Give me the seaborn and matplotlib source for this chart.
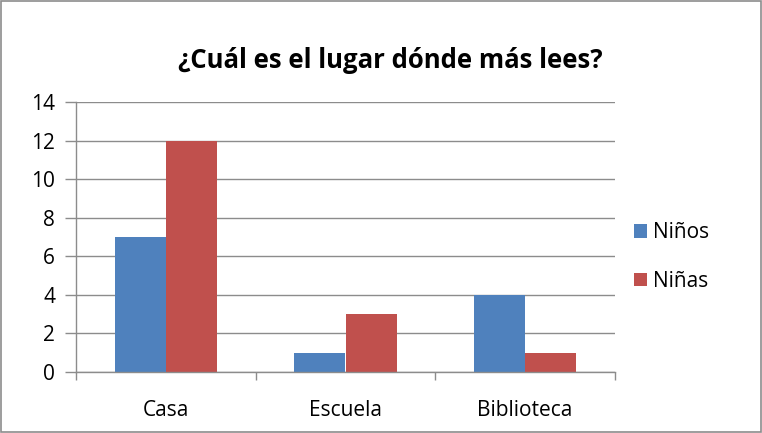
import pandas as pd
import matplotlib.pyplot as plt
import seaborn as sns

# data
lugares = ["Casa", "Escuela", "Biblioteca"]
ninos = [7, 1, 4]
ninas = [12, 3, 1]
series = ["Niños", "Niñas"]
colores = ["#4F81BD", "#C0504D"]

df = pd.DataFrame({
    "Lugar": lugares * 2,
    "Grupo": [series[0]] * len(lugares) + [series[1]] * len(lugares),
    "Valor": ninos + ninas,
})

sns.set_style("white")
plt.rcParams["font.family"] = ["Open Sans", "DejaVu Sans"]
plt.rcParams["text.color"] = "black"
plt.rcParams["xtick.labelcolor"] = "black"
plt.rcParams["ytick.labelcolor"] = "black"

fig = plt.figure(figsize=(7.62, 4.33), dpi=100)
ax = fig.add_axes([76 / 762, 1 - 372 / 433, (615 - 76) / 762, (372 - 102) / 433])

sns.barplot(data=df, x="Lugar", y="Valor", hue="Grupo", palette=colores,
            width=0.57, gap=0, saturation=1, linewidth=0, ax=ax, legend=True)

ax.set_xlim(-0.5, 2.5)
ax.set_ylim(0, 14)
ax.set_yticks(range(0, 15, 2))
ax.yaxis.grid(True, color="#8C8C8C", linewidth=1)
ax.set_axisbelow(True)
ax.set_xlabel("")
ax.set_ylabel("")

for s in ["top", "right"]:
    ax.spines[s].set_visible(False)
for s in ["left", "bottom"]:
    ax.spines[s].set_color("#8C8C8C")
    ax.spines[s].set_linewidth(1)

# category boundary ticks on x
ax.set_xticks([-0.5, 0.5, 1.5, 2.5], minor=False)
ax.set_xticklabels([])
ax.set_xticks([0, 1, 2], minor=True)
ax.set_xticklabels(lugares, minor=True, fontsize=15)
ax.tick_params(axis="x", which="major", bottom=True, direction="out", length=6,
               color="#8C8C8C", width=1)
ax.tick_params(axis="x", which="minor", bottom=True, length=0, pad=20)
ax.tick_params(axis="y", left=True, direction="out", length=8, color="#8C8C8C", width=1,
               labelsize=15, pad=7)

ax.legend(loc="center left", bbox_to_anchor=(1.02, 0.426), frameon=False, fontsize=15,
          handlelength=0.6, handleheight=0.6, labelspacing=1.3,
          handletextpad=0.3, borderaxespad=0)

fig.text(390 / 762, 1 - 60 / 433, "¿Cuál es el lugar dónde más lees?",
         ha="center", va="center", fontsize=18.5, fontweight="bold")

# outer border of the chart area
border = plt.Rectangle((1 / 762, 1 / 433), 760 / 762, 1 - 2 / 433, transform=fig.transFigure,
                       fill=False, edgecolor="#8C8C8C", linewidth=1.2)
fig.patches.append(border)

fig.savefig("out.png", dpi=100)
